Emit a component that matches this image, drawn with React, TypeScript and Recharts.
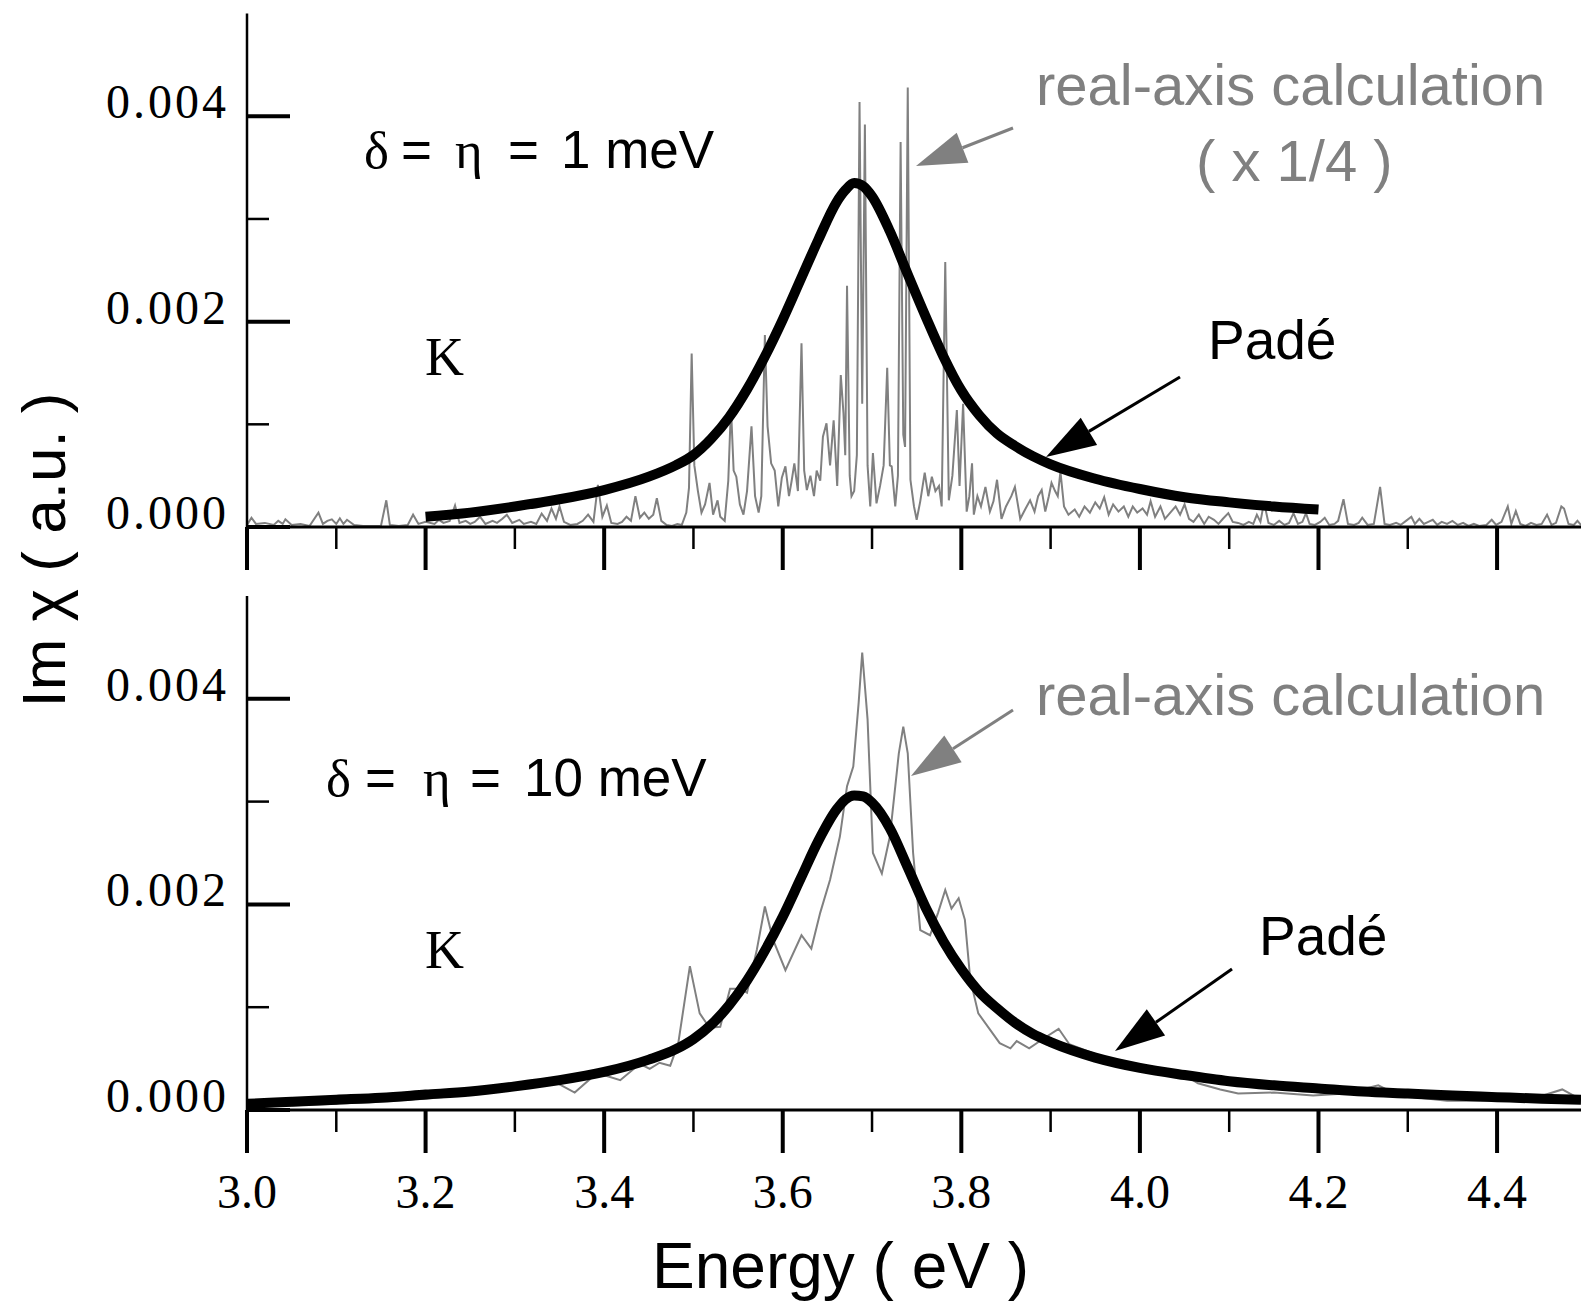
import { LineChart, Line, XAxis, YAxis } from 'recharts';

// values in units of 1e-3 (a.u.)
const xTicks = [3.0, 3.1, 3.2, 3.3, 3.4, 3.5, 3.6, 3.7, 3.8, 3.9, 4.0, 4.1, 4.2, 4.3, 4.4];
const majorX = [3.0, 3.2, 3.4, 3.6, 3.8, 4.0, 4.2, 4.4];
const yTicks = [0, 1, 2, 3, 4];
const majorY = [0, 2, 4];

// top panel: delta = eta = 1 meV
const topPade: [number, number][] = [
  [3.2, 0.1], [3.25, 0.14], [3.3, 0.2], [3.35, 0.27], [3.4, 0.36], [3.45, 0.49], [3.48, 0.6],
  [3.5, 0.7], [3.52, 0.86], [3.54, 1.07], [3.56, 1.34], [3.58, 1.66], [3.6, 2.02], [3.62, 2.41],
  [3.64, 2.8], [3.66, 3.16], [3.67, 3.28], [3.68, 3.35], [3.69, 3.32], [3.7, 3.22], [3.72, 2.88],
  [3.74, 2.46], [3.76, 2.05], [3.78, 1.66], [3.8, 1.33], [3.82, 1.09], [3.84, 0.91], [3.86, 0.79],
  [3.88, 0.69], [3.9, 0.61], [3.95, 0.47], [4.0, 0.37], [4.05, 0.29], [4.1, 0.24], [4.15, 0.2], [4.2, 0.17],
];

const topRealAxis: [number, number][] = [
  [3.0, 0.02], [3.005, 0.09], [3.01, 0.03], [3.02, 0.04], [3.03, 0.02], [3.035, 0.06], [3.04, 0.03],
  [3.043, 0.075], [3.05, 0.02], [3.06, 0.03], [3.07, 0.01], [3.08, 0.14], [3.085, 0.03], [3.09, 0.06],
  [3.095, 0.075], [3.1, 0.03], [3.104, 0.085], [3.108, 0.03], [3.112, 0.07], [3.12, 0.02], [3.13, 0.01],
  [3.15, 0.01], [3.156, 0.26], [3.16, 0.02], [3.17, 0.01], [3.18, 0.02], [3.186, 0.12], [3.192, 0.03],
  [3.2, 0.05], [3.21, 0.03], [3.215, 0.07], [3.22, 0.04], [3.227, 0.06], [3.233, 0.21], [3.238, 0.04],
  [3.245, 0.06], [3.25, 0.03], [3.255, 0.05], [3.261, 0.1], [3.267, 0.03], [3.275, 0.06], [3.28, 0.04],
  [3.286, 0.08], [3.291, 0.12], [3.297, 0.04], [3.305, 0.07], [3.31, 0.03], [3.318, 0.05], [3.324, 0.03],
  [3.33, 0.13], [3.336, 0.06], [3.341, 0.18], [3.346, 0.08], [3.35, 0.2], [3.355, 0.05], [3.362, 0.02],
  [3.37, 0.03], [3.376, 0.06], [3.382, 0.12], [3.388, 0.05], [3.393, 0.41], [3.398, 0.1], [3.403, 0.21],
  [3.408, 0.04], [3.415, 0.03], [3.42, 0.05], [3.425, 0.1], [3.43, 0.06], [3.435, 0.3], [3.44, 0.09],
  [3.445, 0.14], [3.45, 0.08], [3.455, 0.12], [3.459, 0.28], [3.464, 0.06], [3.47, 0.02], [3.476, 0.01],
  [3.482, 0.03], [3.487, 0.02], [3.492, 0.14], [3.495, 0.38], [3.498, 1.69], [3.501, 0.6], [3.505, 0.35],
  [3.509, 0.14], [3.513, 0.22], [3.518, 0.43], [3.522, 0.12], [3.527, 0.26], [3.53, 0.1], [3.535, 0.06],
  [3.539, 0.45], [3.542, 1.17], [3.545, 0.55], [3.548, 0.49], [3.552, 0.22], [3.556, 0.12], [3.56, 0.35],
  [3.565, 0.98], [3.569, 0.3], [3.573, 0.14], [3.576, 0.3], [3.58, 1.87], [3.583, 0.98], [3.587, 0.62],
  [3.591, 0.55], [3.595, 0.2], [3.599, 0.48], [3.603, 0.59], [3.607, 0.3], [3.61, 0.45], [3.613, 0.62],
  [3.617, 0.35], [3.621, 1.79], [3.624, 0.55], [3.627, 0.36], [3.631, 0.5], [3.635, 0.3], [3.638, 0.55],
  [3.642, 0.45], [3.645, 0.88], [3.649, 1.01], [3.653, 0.6], [3.657, 1.04], [3.661, 0.4], [3.665, 1.48],
  [3.668, 1.11], [3.67, 0.7], [3.672, 2.35], [3.675, 0.5], [3.677, 0.3], [3.68, 0.35], [3.683, 0.7],
  [3.686, 4.14], [3.689, 1.2], [3.692, 3.92], [3.695, 0.6], [3.698, 0.2], [3.701, 0.72], [3.705, 0.23],
  [3.709, 0.4], [3.713, 0.6], [3.717, 1.55], [3.72, 0.6], [3.722, 0.59], [3.726, 0.2], [3.729, 0.5],
  [3.732, 3.75], [3.735, 0.9], [3.737, 0.78], [3.74, 4.28], [3.743, 0.46], [3.747, 0.2], [3.75, 0.07],
  [3.754, 0.25], [3.759, 0.53], [3.763, 0.3], [3.767, 0.49], [3.771, 0.35], [3.775, 0.4], [3.778, 0.2],
  [3.782, 2.58], [3.786, 0.26], [3.79, 0.5], [3.795, 1.14], [3.798, 0.4], [3.802, 1.2], [3.806, 0.15],
  [3.809, 0.3], [3.812, 0.62], [3.814, 0.12], [3.818, 0.3], [3.822, 0.2], [3.827, 0.39], [3.832, 0.15],
  [3.836, 0.25], [3.84, 0.46], [3.845, 0.08], [3.85, 0.2], [3.856, 0.3], [3.86, 0.39], [3.866, 0.08],
  [3.872, 0.18], [3.877, 0.26], [3.882, 0.15], [3.886, 0.3], [3.89, 0.36], [3.894, 0.15], [3.898, 0.3],
  [3.901, 0.43], [3.905, 0.35], [3.908, 0.3], [3.911, 0.54], [3.915, 0.2], [3.92, 0.12], [3.927, 0.17],
  [3.932, 0.1], [3.938, 0.2], [3.944, 0.14], [3.95, 0.24], [3.955, 0.18], [3.96, 0.29], [3.965, 0.12],
  [3.97, 0.22], [3.976, 0.15], [3.982, 0.2], [3.987, 0.1], [3.992, 0.2], [3.997, 0.14], [4.003, 0.18],
  [4.008, 0.12], [4.012, 0.25], [4.017, 0.1], [4.023, 0.2], [4.028, 0.08], [4.035, 0.15], [4.04, 0.2],
  [4.045, 0.12], [4.05, 0.22], [4.055, 0.08], [4.06, 0.05], [4.066, 0.12], [4.072, 0.03], [4.077, 0.1],
  [4.083, 0.07], [4.088, 0.03], [4.093, 0.08], [4.099, 0.135], [4.104, 0.05], [4.11, 0.04], [4.116, 0.02],
  [4.122, 0.05], [4.127, 0.03], [4.131, 0.12], [4.135, 0.05], [4.139, 0.24], [4.144, 0.04], [4.15, 0.02],
  [4.156, 0.06], [4.162, 0.02], [4.167, 0.04], [4.172, 0.135], [4.177, 0.03], [4.182, 0.05], [4.186, 0.135],
  [4.19, 0.03], [4.196, 0.02], [4.202, 0.05], [4.207, 0.09], [4.212, 0.02], [4.218, 0.03], [4.222, 0.06],
  [4.228, 0.27], [4.233, 0.03], [4.24, 0.02], [4.245, 0.04], [4.249, 0.09], [4.255, 0.02], [4.262, 0.03],
  [4.269, 0.39], [4.274, 0.03], [4.28, 0.02], [4.287, 0.04], [4.292, 0.02], [4.298, 0.06], [4.304, 0.1],
  [4.308, 0.03], [4.313, 0.08], [4.318, 0.03], [4.323, 0.05], [4.328, 0.07], [4.333, 0.02], [4.338, 0.05],
  [4.344, 0.03], [4.35, 0.06], [4.356, 0.02], [4.362, 0.04], [4.368, 0.01], [4.374, 0.03], [4.38, 0.01],
  [4.388, 0.02], [4.394, 0.07], [4.399, 0.02], [4.405, 0.05], [4.412, 0.2], [4.416, 0.03], [4.421, 0.155],
  [4.426, 0.03], [4.432, 0.01], [4.438, 0.04], [4.444, 0.02], [4.45, 0.03], [4.456, 0.12], [4.461, 0.02],
  [4.466, 0.04], [4.472, 0.2], [4.475, 0.18], [4.48, 0.03], [4.486, 0.02], [4.49, 0.06], [4.494, 0.02],
];

// bottom panel: delta = eta = 10 meV
const bottomPade: [number, number][] = [
  [3.0, 0.06], [3.05, 0.08], [3.1, 0.1], [3.15, 0.12], [3.2, 0.15], [3.25, 0.18], [3.3, 0.23],
  [3.35, 0.29], [3.4, 0.37], [3.45, 0.49], [3.48, 0.59], [3.5, 0.69], [3.52, 0.83], [3.54, 1.02],
  [3.56, 1.26], [3.58, 1.55], [3.6, 1.88], [3.62, 2.25], [3.64, 2.62], [3.66, 2.92], [3.67, 3.02],
  [3.68, 3.06], [3.69, 3.05], [3.7, 2.99], [3.72, 2.74], [3.74, 2.36], [3.76, 1.97], [3.78, 1.64],
  [3.8, 1.37], [3.82, 1.15], [3.84, 0.99], [3.86, 0.85], [3.88, 0.74], [3.9, 0.66], [3.95, 0.51],
  [4.0, 0.41], [4.05, 0.34], [4.1, 0.28], [4.15, 0.24], [4.2, 0.21], [4.25, 0.18], [4.3, 0.16],
  [4.35, 0.14], [4.4, 0.125], [4.45, 0.11], [4.494, 0.1],
];

const bottomRealAxis: [number, number][] = [
  [3.0, 0.03], [3.1, 0.06], [3.2, 0.11], [3.26, 0.16], [3.3, 0.2], [3.337, 0.31], [3.367, 0.17],
  [3.392, 0.36], [3.418, 0.29], [3.44, 0.45], [3.451, 0.4], [3.462, 0.46], [3.474, 0.43], [3.483, 0.65],
  [3.496, 1.4], [3.507, 0.94], [3.518, 0.8], [3.53, 0.81], [3.541, 1.18], [3.552, 1.18], [3.56, 1.14],
  [3.571, 1.56], [3.58, 1.98], [3.589, 1.66], [3.603, 1.36], [3.621, 1.7], [3.632, 1.57], [3.642, 1.92],
  [3.653, 2.24], [3.664, 2.66], [3.672, 3.15], [3.679, 3.34], [3.685, 3.96], [3.689, 4.45], [3.695, 3.8],
  [3.701, 2.5], [3.711, 2.3], [3.72, 2.66], [3.73, 3.47], [3.735, 3.73], [3.74, 3.47], [3.746, 2.5],
  [3.754, 1.75], [3.765, 1.7], [3.774, 1.92], [3.782, 2.14], [3.789, 1.96], [3.797, 2.06], [3.804, 1.85],
  [3.81, 1.27], [3.819, 0.94], [3.843, 0.65], [3.855, 0.6], [3.862, 0.67], [3.876, 0.6], [3.893, 0.7],
  [3.909, 0.79], [3.921, 0.64], [3.954, 0.53], [4.0, 0.4], [4.043, 0.38], [4.065, 0.26], [4.09, 0.2],
  [4.11, 0.16], [4.15, 0.17], [4.194, 0.14], [4.23, 0.16], [4.267, 0.24], [4.29, 0.14], [4.344, 0.09],
  [4.383, 0.09], [4.44, 0.11], [4.473, 0.2], [4.494, 0.1],
];

const toRows = (pts: [number, number][]) => pts.map(([x, v]) => ({ x, v }));

const SERIF = "'Liberation Serif', 'Times New Roman', serif";
const SANS = "'Liberation Sans', Arial, sans-serif";
const GRAY = '#808080';

const XTick = ({ x, y, payload, labels }: any) => {
  const major = majorX.includes(payload.value);
  return (
    <g>
      <line x1={x} x2={x} y1={y} y2={y + (major ? 43 : 22)} stroke="#000" strokeWidth={major ? 4 : 2.5} />
      {labels && major && (
        <text x={x} y={y + 98} textAnchor="middle" fontFamily={SERIF} fontSize={48} fill="#000">
          {payload.value.toFixed(1)}
        </text>
      )}
    </g>
  );
};

const YTick = ({ x, y, payload }: any) => {
  const major = majorY.includes(payload.value);
  return (
    <g>
      <line x1={x} x2={x + (major ? 43 : 22)} y1={y} y2={y} stroke="#000" strokeWidth={major ? 4 : 2.5} />
      {major && (
        <text x={x - 18} y={y + 2} textAnchor="end" fontFamily={SERIF} fontSize={48} letterSpacing={3} fill="#000">
          {(payload.value / 1000).toFixed(3)}
        </text>
      )}
    </g>
  );
};

// axes are 1px deep so that recharts still draws them; margins make up the rest
const Panel = ({ top, height, marginTop, marginBottom, realAxis, pade, xLabels }: any) => (
  <div style={{ position: 'absolute', left: 0, top }}>
    <LineChart width={1581} height={height} margin={{ top: marginTop, right: 0, bottom: marginBottom, left: 246 }}>
      <XAxis
        type="number"
        dataKey="x"
        domain={[3, 4.494]}
        allowDataOverflow
        ticks={xTicks}
        interval={0}
        height={1}
        tickSize={0}
        tickMargin={0}
        tickLine={false}
        axisLine={{ stroke: '#000', strokeWidth: 3 }}
        tick={(p: any) => <XTick {...p} labels={xLabels} />}
      />
      <YAxis
        type="number"
        domain={[0, 5]}
        allowDataOverflow
        ticks={yTicks}
        interval={0}
        width={1}
        tickSize={0}
        tickMargin={0}
        tickLine={false}
        axisLine={{ stroke: '#000', strokeWidth: 2.5 }}
        tick={(p: any) => <YTick {...p} />}
      />
      <Line data={toRows(realAxis)} dataKey="v" type="linear" stroke={GRAY} strokeWidth={2} dot={false} activeDot={false} isAnimationActive={false} />
      <Line data={toRows(pade)} dataKey="v" type="monotone" stroke="#000" strokeWidth={10} dot={false} activeDot={false} isAnimationActive={false} />
    </LineChart>
  </div>
);

const Arrow = ({ from, tip, color, width }: any) => {
  const dx = tip[0] - from[0];
  const dy = tip[1] - from[1];
  const len = Math.hypot(dx, dy);
  const ux = dx / len;
  const uy = dy / len;
  const hl = 50;
  const hw = 16;
  const bx = tip[0] - ux * hl;
  const by = tip[1] - uy * hl;
  const pts = `${tip[0]},${tip[1]} ${bx - uy * hw},${by + ux * hw} ${bx + uy * hw},${by - ux * hw}`;
  return (
    <g>
      <line x1={from[0]} y1={from[1]} x2={bx} y2={by} stroke={color} strokeWidth={width} />
      <polygon points={pts} fill={color} />
    </g>
  );
};

const Greek = ({ parts, y }: any) => (
  <text y={y} fontSize={53} fill="#000">
    {parts.map(([t, x, serif]: any, i: number) => (
      <tspan key={i} x={x} fontFamily={serif ? SERIF : SANS}>
        {t}
      </tspan>
    ))}
  </text>
);

export default function App() {
  return (
    <div style={{ position: 'absolute', left: 0, top: 0, width: 1581, height: 1304, background: '#fff', overflow: 'hidden' }}>
      <Panel top={0} height={600} marginTop={13.6} marginBottom={72} realAxis={topRealAxis} pade={topPade} xLabels={false} />
      <Panel top={580} height={724} marginTop={16} marginBottom={193} realAxis={bottomRealAxis} pade={bottomPade} xLabels />
      <svg width={1581} height={1304} style={{ position: 'absolute', left: 0, top: 0, pointerEvents: 'none' }}>
        <text transform="translate(65,550) rotate(-90)" textAnchor="middle" fontFamily={SANS} fontSize={62} fill="#000">
          Im χ ( a.u. )
        </text>
        <text x={652} y={1288} fontFamily={SANS} fontSize={64} fill="#000">
          Energy ( eV )
        </text>

        <Greek y={168} parts={[['δ', 364, true], ['=', 401, false], ['η', 455, true], ['=', 508, false], ['1 meV', 561, false]]} />
        <Greek y={796} parts={[['δ', 326, true], ['=', 365, false], ['η', 423, true], ['=', 470, false], ['10 meV', 524, false]]} />

        <text x={425} y={375} fontFamily={SERIF} fontSize={54} fill="#000">K</text>
        <text x={425} y={968} fontFamily={SERIF} fontSize={54} fill="#000">K</text>

        <text x={1036} y={105} fontFamily={SANS} fontSize={58} fill={GRAY}>real-axis calculation</text>
        <text x={1196} y={181} fontFamily={SANS} fontSize={58} fill={GRAY}>( x 1/4 )</text>
        <text x={1036} y={715} fontFamily={SANS} fontSize={58} fill={GRAY}>real-axis calculation</text>

        <text x={1208} y={359} fontFamily={SANS} fontSize={55} fill="#000">Padé</text>
        <text x={1259} y={955} fontFamily={SANS} fontSize={55} fill="#000">Padé</text>

        <Arrow from={[1013, 128]} tip={[916, 166]} color={GRAY} width={3} />
        <Arrow from={[1180, 377]} tip={[1046, 457]} color="#000" width={3} />
        <Arrow from={[1013, 710]} tip={[911, 776]} color={GRAY} width={3} />
        <Arrow from={[1232, 969]} tip={[1115, 1051]} color="#000" width={3} />
      </svg>
    </div>
  );
}
